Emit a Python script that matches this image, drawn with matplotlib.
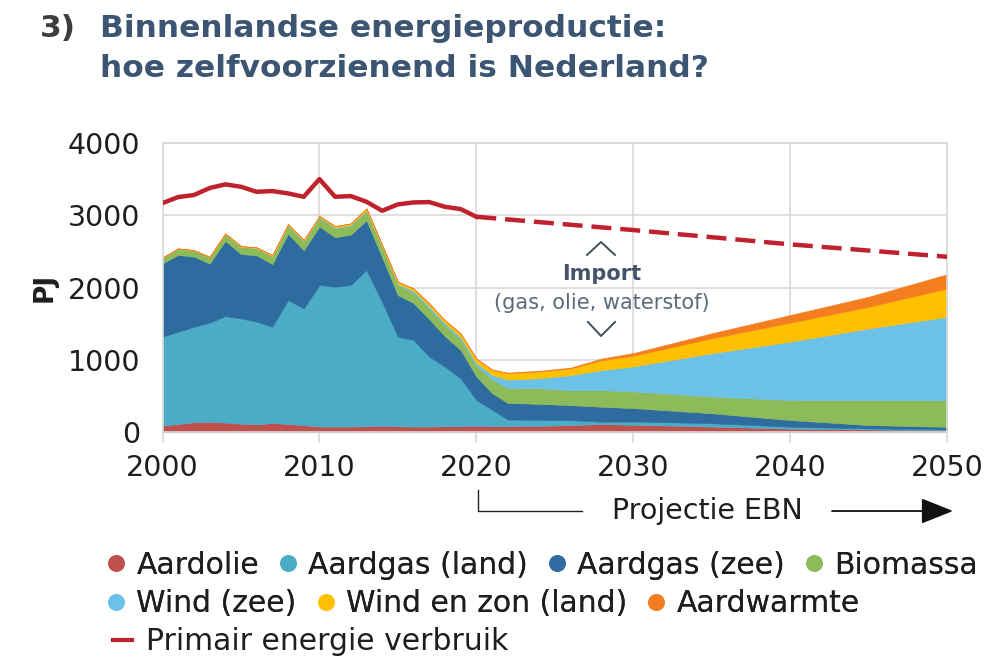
import matplotlib
matplotlib.use("Agg")
import matplotlib.pyplot as plt
from matplotlib.lines import Line2D

# Jaren (historisch jaarlijks, projectie met grotere stappen)
YEARS = [2000, 2001, 2002, 2003, 2004, 2005, 2006, 2007, 2008, 2009,
         2010, 2011, 2012, 2013, 2014, 2015, 2016, 2017, 2018, 2019,
         2020, 2021, 2022, 2024, 2026, 2028, 2030, 2035, 2040, 2045, 2050]

# Productie per bron [PJ]
AARDOLIE = [90, 110, 135, 140, 130, 115, 105, 125, 110, 95,
            75, 75, 75, 80, 85, 80, 75, 75, 80, 80,
            85, 80, 80, 85, 95, 110, 100, 75, 46, 35, 25]
AARDGAS_LAND = [1230, 1279, 1323, 1374, 1477, 1459, 1423, 1333, 1718, 1618,
                1961, 1938, 1961, 2164, 1715, 1240, 1199, 968, 825, 663,
                358, 230, 92, 83, 69, 32, 46, 46, 28, 15, 10]
AARDGAS_ZEE = [1015, 1065, 973, 819, 1040, 892, 920, 869, 918, 806,
               811, 685, 699, 689, 620, 577, 513, 520, 422, 395,
               327, 231, 231, 222, 208, 208, 185, 139, 92, 46, 37]
BIOMASSA = [80, 85, 85, 90, 95, 100, 100, 105, 110, 115,
            120, 125, 125, 130, 135, 140, 145, 150, 150, 150,
            150, 190, 208, 217, 208, 231, 231, 231, 277, 346, 369]
WIND_ZEE = [0, 0, 0, 0, 0, 0, 0, 5, 10, 10,
            10, 10, 10, 10, 10, 15, 25, 30, 30, 30,
            40, 60, 115, 138, 208, 277, 346, 600, 808, 993, 1154]
WIND_ZON_LAND = [5, 5, 5, 5, 10, 10, 10, 15, 15, 15,
                 15, 20, 20, 25, 25, 30, 30, 35, 40, 45,
                 55, 70, 90, 93, 92, 138, 148, 207, 263, 300, 393]
AARDWARMTE = [0, 0, 0, 0, 0, 0, 0, 0, 0, 0,
              0, 0, 0, 0, 0, 2, 3, 3, 4, 5,
              5, 6, 7, 10, 12, 23, 37, 70, 107, 139, 198]

# Primair energieverbruik [PJ]
YEARS_HIST = list(range(2000, 2021))
VERBRUIK_HIST = [3172, 3255, 3283, 3380, 3431, 3398, 3328, 3338, 3306, 3259,
                 3504, 3259, 3269, 3190, 3065, 3154, 3181, 3186, 3120, 3089, 2982]
YEARS_PROJ = [2020, 2030, 2040, 2050]
VERBRUIK_PROJ = [2982, 2798, 2600, 2428]

LABELS = ["Aardolie", "Aardgas (land)", "Aardgas (zee)", "Biomassa",
          "Wind (zee)", "Wind en zon (land)", "Aardwarmte"]
COLORS = ["#C0504D", "#4BACC6", "#2E6B9E", "#8DBB5A",
          "#6CC1E9", "#FFC000", "#F47D20"]
LINE_COLOR = "#C0222D"
TITLE_COLOR = "#3B5573"
TEXT_COLOR = "#1E1E1E"
GRID_COLOR = "#D9D9D9"

W, H = 984, 662


def px(x, y):
    # pixel positie -> figuur fractie
    return x / W, 1 - y / H


def main():
    plt.rcParams["font.family"] = ["DejaVu Sans"]
    fig = plt.figure(figsize=(W / 100, H / 100), dpi=100)
    ax = fig.add_axes([162.5 / W, 1 - 432 / H, (947 - 162.5) / W, (432 - 143.3) / H])

    series = [AARDOLIE, AARDGAS_LAND, AARDGAS_ZEE, BIOMASSA,
              WIND_ZEE, WIND_ZON_LAND, AARDWARMTE]
    polys = ax.stackplot(YEARS, *series, colors=COLORS, labels=LABELS, zorder=2)
    for p, c in zip(polys, COLORS):
        p.set_edgecolor(c)
        p.set_linewidth(0.4)

    ax.plot(YEARS_HIST, VERBRUIK_HIST, color=LINE_COLOR, lw=3.2, zorder=3,
            solid_joinstyle="round")
    ax.plot(YEARS_PROJ, VERBRUIK_PROJ, color=LINE_COLOR, lw=3.2, zorder=3,
            dashes=(4.5, 2))

    ax.set_xlim(2000, 2050)
    ax.set_ylim(0, 4000)
    ax.set_xticks(range(2000, 2051, 10))
    ax.set_yticks(range(0, 4001, 1000))
    ax.grid(True, color=GRID_COLOR, lw=1.2, zorder=0)
    ax.set_axisbelow(True)
    for s in ax.spines.values():
        s.set_color(GRID_COLOR)
        s.set_linewidth(1.2)
    ax.tick_params(axis="x", length=8, width=1.2, color=GRID_COLOR,
                   labelsize=20.5, labelcolor=TEXT_COLOR, pad=8)
    ax.tick_params(axis="y", length=0, labelsize=20.5, labelcolor=TEXT_COLOR, pad=16)

    # as-label
    fig.text(*px(45, 287), "PJ", rotation=90, fontsize=19, fontweight="bold",
             color=TEXT_COLOR, ha="center", va="center")

    # titel
    fig.text(*px(40, 37), "3)", fontsize=22.5, fontweight="bold", color="#3D3D3D",
             va="baseline")
    fig.text(*px(100, 37), "Binnenlandse energieproductie:", fontsize=22.5,
             fontweight="bold", color=TITLE_COLOR, va="baseline")
    fig.text(*px(100, 77), "hoe zelfvoorzienend is Nederland?", fontsize=22.5,
             fontweight="bold", color=TITLE_COLOR, va="baseline")

    # import annotatie
    ax.text(2028, 2188, "Import", fontsize=15, fontweight="bold", color="#44546A",
            ha="center", va="center", zorder=4)
    ax.text(2028, 1787, "(gas, olie, waterstof)", fontsize=15, color="#5B6B7C",
            ha="center", va="center", zorder=4)
    chev = dict(color="#3F4F60", lw=1.4, transform=fig.transFigure)
    up = [px(587, 255), px(601, 242), px(615, 255)]
    dn = [px(588, 322), px(601, 336), px(615, 322)]
    fig.add_artist(Line2D([p[0] for p in up], [p[1] for p in up], **chev))
    fig.add_artist(Line2D([p[0] for p in dn], [p[1] for p in dn], **chev))

    # projectie pijl
    br = [px(478, 490), px(478, 511), px(582, 511)]
    fig.add_artist(Line2D([p[0] for p in br], [p[1] for p in br], color="#222222",
                          lw=1.0, transform=fig.transFigure))
    fig.text(*px(707, 511), "Projectie EBN", fontsize=20.5, color=TEXT_COLOR,
             ha="center", va="center")
    ax.annotate("", xy=px(953, 511), xytext=px(832, 511),
                xycoords="figure fraction", textcoords="figure fraction",
                arrowprops=dict(arrowstyle="-|>,head_length=1.0,head_width=0.4",
                                mutation_scale=20, color="#111111", lw=1.3,
                                shrinkA=0, shrinkB=0))

    # legenda in drie rijen
    def dot(c):
        return Line2D([], [], marker="o", ls="none", ms=11, color=c)

    leg_kw = dict(frameon=False, fontsize=21.5, loc="center left", borderpad=0,
                  borderaxespad=0, handletextpad=0.3, columnspacing=0.6,
                  handlelength=0.75, labelcolor=TEXT_COLOR)
    l1 = fig.legend([dot(c) for c in COLORS[:4]], LABELS[:4], ncol=4,
                    bbox_to_anchor=px(105, 565), **leg_kw)
    fig.add_artist(l1)
    l2 = fig.legend([dot(c) for c in COLORS[4:]], LABELS[4:], ncol=3,
                    bbox_to_anchor=px(105, 604), **leg_kw)
    fig.add_artist(l2)
    fig.legend([Line2D([], [], color=LINE_COLOR, lw=3)], ["Primair energie verbruik"],
               bbox_to_anchor=px(113, 642), **{**leg_kw, "handlelength": 0.65,
                                                "handletextpad": 0.45})

    fig.savefig("out.png", dpi=100)
    plt.close(fig)


if __name__ == "__main__":
    main()
